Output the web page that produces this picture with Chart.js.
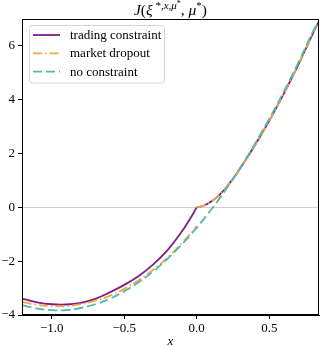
<!DOCTYPE html>
<html>
<head>
<meta charset="utf-8">
<script src="https://cdn.jsdelivr.net/npm/chart.js@4"></script>
<style>
  html, body { margin: 0; padding: 0; background: #fff; }
  #wrap { width: 321px; height: 347px; }
</style>
</head>
<body>
<div id="wrap"><canvas id="chartJ" width="321" height="347"></canvas></div>
<script>
// --- data ---
const xNeg = [-1.2, -1.1, -1.0, -0.9, -0.8, -0.7, -0.6, -0.5, -0.4, -0.3, -0.2, -0.1, -0.05, 0];
const tradingNeg = [-3.40, -3.53, -3.60, -3.61, -3.55, -3.40, -3.16, -2.88, -2.55, -2.12, -1.58, -0.88, -0.46, 0];
const dropoutNeg = [-3.52, -3.62, -3.67, -3.67, -3.60, -3.47, -3.29, -3.03, -2.71, -2.32, -1.86, -1.32, -1.02, -0.70];

// x >= 0: trading constraint and market dropout share the same branch
const xPos = [0, 0.05, 0.1, 0.15, 0.2, 0.25, 0.3, 0.4, 0.5, 0.6, 0.7, 0.8, 0.85];
const upperPos = [0, 0.07, 0.22, 0.43, 0.72, 1.06, 1.45, 2.30, 3.22, 4.22, 5.30, 6.45, 7.00];

const xFree = [-1.2, -1.1, -1.0, -0.9, -0.8, -0.7, -0.6, -0.5, -0.4, -0.3, -0.2, -0.1, 0, 0.1, 0.2, 0.3, 0.4, 0.5, 0.6, 0.7, 0.8, 0.85];
const noConstraint = [-3.64, -3.76, -3.82, -3.82, -3.74, -3.60, -3.40, -3.12, -2.78, -2.38, -1.90, -1.36, -0.75, -0.08, 0.66, 1.47, 2.35, 3.29, 4.30, 5.37, 6.52, 6.99];

const seriesNames = ['trading constraint', 'market dropout', 'no constraint'];
const xTicks = [-1.0, -0.5, 0.0, 0.5];
const xTickLabels = ['\u22121.0', '\u22120.5', '0.0', '0.5'];
const yTicks = [-4, -2, 0, 2, 4, 6];
const yTickLabels = ['\u22124', '\u22122', '0', '2', '4', '6'];

const PURPLE = '#7d1f87';
const ORANGE = '#f4a640';
const TEAL = '#50b8b0';
const SERIF = '"Liberation Serif", "DejaVu Serif", serif';

const pts = (xs, ys) => xs.map((x, i) => ({ x: x, y: ys[i] }));

// --- plugins: box frame, legend box, math title ---
const framePlugin = {
    id: 'frame',
    afterDatasetsDraw(chart) {
        const a = chart.chartArea, c = chart.ctx;
        c.save();
        c.strokeStyle = '#000';
        c.lineWidth = 1;
        c.strokeRect(Math.round(a.left) + 0.5, Math.round(a.top) + 0.5,
            Math.round(a.right - a.left) - 1, Math.round(a.bottom - a.top) - 1);
        c.restore();
    }
};

const legendPlugin = {
    id: 'boxLegend',
    afterDraw(chart) {
        const c = chart.ctx;
        const styles = [
            { color: PURPLE, dash: [] },
            { color: ORANGE, dash: [9, 3, 1.5, 3] },
            { color: TEAL, dash: [9, 4] }
        ];
        c.save();
        // box
        const bx = 29.5, by = 25.5, bw = 135, bh = 57.5, r = 3;
        c.beginPath();
        c.moveTo(bx + r, by);
        c.arcTo(bx + bw, by, bx + bw, by + bh, r);
        c.arcTo(bx + bw, by + bh, bx, by + bh, r);
        c.arcTo(bx, by + bh, bx, by, r);
        c.arcTo(bx, by, bx + bw, by, r);
        c.closePath();
        c.fillStyle = 'rgba(255,255,255,0.85)';
        c.fill();
        c.strokeStyle = '#d6d6d6';
        c.lineWidth = 1;
        c.stroke();
        // entries
        const rows = [35, 53.3, 71.6];
        c.font = '13px ' + SERIF;
        c.textBaseline = 'middle';
        c.fillStyle = '#000';
        seriesNames.forEach((name, i) => {
            c.beginPath();
            c.setLineDash(styles[i].dash);
            c.strokeStyle = styles[i].color;
            c.lineWidth = 1.8;
            c.moveTo(33, rows[i]);
            c.lineTo(60, rows[i]);
            c.stroke();
            c.setLineDash([]);
            c.fillText(name, 70, rows[i] + 0.5);
        });
        c.restore();
    }
};

const titlePlugin = {
    id: 'mathTitle',
    afterDraw(chart) {
        const c = chart.ctx;
        const big = 15.5, sup = 11, sup2 = 8;
        const base = 15;
        const parts = [
            { t: 'J', f: 'italic ' + big + 'px ' + SERIF, dy: 0 },
            { t: '(', f: big + 'px ' + SERIF, dy: 0 },
            { t: '\u03be', f: 'italic ' + big + 'px ' + SERIF, dy: 0 },
            { t: ' *,', f: sup + 'px ' + SERIF, dy: -6 },
            { t: 'x', f: 'italic ' + sup + 'px ' + SERIF, dy: -6 },
            { t: ',', f: sup + 'px ' + SERIF, dy: -6 },
            { t: '\u03bc', f: 'italic ' + sup + 'px ' + SERIF, dy: -6 },
            { t: '*', f: sup2 + 'px ' + SERIF, dy: -9.5 },
            { t: ', ', f: big + 'px ' + SERIF, dy: 0 },
            { t: '\u03bc', f: 'italic ' + big + 'px ' + SERIF, dy: 0 },
            { t: '*', f: sup + 'px ' + SERIF, dy: -6 },
            { t: ')', f: big + 'px ' + SERIF, dy: 0 }
        ];
        c.save();
        let total = 0;
        parts.forEach(p => { c.font = p.f; p.w = c.measureText(p.t).width; total += p.w; });
        const a = chart.chartArea;
        let x = (a.left + a.right) / 2 - total / 2;
        c.fillStyle = '#000';
        c.textBaseline = 'alphabetic';
        parts.forEach(p => {
            c.font = p.f;
            c.fillText(p.t, x, base + p.dy);
            x += p.w;
        });
        c.restore();
    }
};

// --- chart ---
const lineBase = { fill: false, pointRadius: 0, borderWidth: 1.8, tension: 0.4, clip: 0 };

new Chart(document.getElementById('chartJ'), {
    type: 'line',
    data: {
        datasets: [
            Object.assign({ label: seriesNames[2], data: pts(xFree, noConstraint), borderColor: TEAL, borderDash: [9, 4], order: 1 }, lineBase),
            Object.assign({ label: seriesNames[1], data: pts(xNeg, dropoutNeg), borderColor: ORANGE, borderDash: [9, 3, 1.5, 3], order: 2 }, lineBase),
            Object.assign({ label: seriesNames[1], data: pts(xPos, upperPos), borderColor: ORANGE, borderDash: [9, 3, 1.5, 3], order: 2 }, lineBase),
            Object.assign({ label: seriesNames[0], data: pts(xNeg, tradingNeg), borderColor: PURPLE, order: 3 }, lineBase),
            Object.assign({ label: seriesNames[0], data: pts(xPos, upperPos), borderColor: PURPLE, order: 3 }, lineBase)
        ]
    },
    options: {
        responsive: false,
        animation: false,
        layout: { padding: { left: 0, right: 2, top: 19, bottom: 0 } },
        plugins: { legend: { display: false }, title: { display: false }, tooltip: { enabled: false } },
        scales: {
            x: {
                type: 'linear',
                min: -1.205,
                max: 0.843,
                afterBuildTicks: s => { s.ticks = xTicks.map(v => ({ value: v })); },
                afterFit: s => { s.height = 32; },
                ticks: {
                    color: '#000',
                    font: { family: SERIF, size: 13 },
                    padding: 2,
                    maxRotation: 0,
                    callback: v => xTickLabels[xTicks.indexOf(v)]
                },
                grid: { display: true, drawOnChartArea: false, tickColor: '#000', tickLength: 4 },
                border: { display: true, color: '#000' },
                title: { display: true, text: 'x', color: '#000', padding: { top: 0, bottom: -2 }, font: { family: SERIF, style: 'italic', size: 13 } }
            },
            y: {
                min: -4,
                max: 7,
                afterBuildTicks: s => { s.ticks = yTicks.map(v => ({ value: v })); },
                afterFit: s => { s.width = 22; },
                ticks: {
                    color: '#000',
                    font: { family: SERIF, size: 13 },
                    padding: 3,
                    callback: v => yTickLabels[yTicks.indexOf(v)]
                },
                grid: {
                    color: c => (c.tick && c.tick.value === 0) ? '#cfcfcf' : 'rgba(0,0,0,0)',
                    tickColor: '#000',
                    tickLength: 4,
                    lineWidth: 1
                },
                border: { display: true, color: '#000' }
            }
        }
    },
    plugins: [framePlugin, legendPlugin, titlePlugin]
});
</script>
</body>
</html>
